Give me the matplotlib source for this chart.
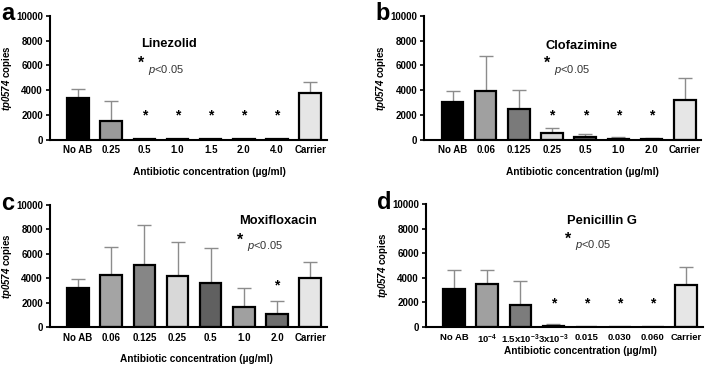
import matplotlib
matplotlib.use("Agg")
from matplotlib import pyplot as plt
import numpy as np

plt.rcParams['font.family'] = ['Liberation Sans', 'DejaVu Sans']
plt.rcParams['mathtext.fontset'] = 'custom'
plt.rcParams['mathtext.rm'] = 'Liberation Sans'
plt.rcParams['mathtext.it'] = 'Liberation Sans:italic'
plt.rcParams['mathtext.bf'] = 'Liberation Sans:bold'
plt.rcParams['mathtext.bfit'] = 'Liberation Sans:bold:italic'

# -- data
labels_a = ['No AB', '0.25', '0.5', '1.0', '1.5', '2.0', '4.0', 'Carrier']
mean_a = [3400, 1500, 80, 60, 100, 50, 50, 3750]
err_a = [700, 1600, 0, 0, 0, 0, 0, 950]
sig_a = [2, 3, 4, 5, 6]

labels_b = ['No AB', '0.06', '0.125', '0.25', '0.5', '1.0', '2.0', 'Carrier']
mean_b = [3050, 3950, 2500, 550, 250, 100, 50, 3200]
err_b = [900, 2850, 1500, 400, 250, 100, 60, 1750]
sig_b = [3, 4, 5, 6]

labels_c = ['No AB', '0.06', '0.125', '0.25', '0.5', '1.0', '2.0', 'Carrier']
mean_c = [3200, 4300, 5050, 4200, 3600, 1650, 1100, 4050]
err_c = [750, 2300, 3300, 2750, 2850, 1550, 1000, 1250]
sig_c = [6]

labels_d = ['No AB', r'10$^{\mathbf{-4}}$', r'1.5x10$^{\mathbf{-3}}$', r'3x10$^{\mathbf{-3}}$',
            '0.015', '0.030', '0.060', 'Carrier']
mean_d = [3100, 3500, 1800, 80, 40, 20, 30, 3400]
err_d = [1550, 1150, 1950, 170, 0, 0, 0, 1450]
sig_d = [3, 4, 5, 6]

fig = plt.figure(figsize=(7.12, 3.68), dpi=100)

# letter, title, labels, means, errors, starred bars, colours, axes rect,
# title pos, legend star pos, star height, xlabel x, xlabel pad, tick font
panels = [
    ('a', 'Linezolid', labels_a, mean_a, err_a, sig_a,
     ['#000000', '#9a9a9a', '#9a9a9a', '#9a9a9a', '#9a9a9a', '#9a9a9a', '#9a9a9a', '#e6e6e6'],
     [0.070, 0.620, 0.389, 0.337], (1.9, 7750), (1.9, 6150), 2000, 0.575, 8, 7),
    ('b', 'Clofazimine', labels_b, mean_b, err_b, sig_b,
     ['#000000', '#a0a0a0', '#7a7a7a', '#d8d8d8', '#5e5e5e', '#a0a0a0', '#8a8a8a', '#e6e6e6'],
     [0.596, 0.620, 0.389, 0.337], (2.8, 7550), (2.85, 6150), 1950, 0.57, 8, 7),
    ('c', 'Moxifloxacin', labels_c, mean_c, err_c, sig_c,
     ['#000000', '#a4a4a4', '#868686', '#d8d8d8', '#606060', '#a0a0a0', '#6e6e6e', '#e6e6e6'],
     [0.070, 0.111, 0.389, 0.332], (4.85, 8650), (4.9, 7150), 3450, 0.53, 8, 7),
    ('d', 'Penicillin G', labels_d, mean_d, err_d, sig_d,
     ['#000000', '#a0a0a0', '#7c7c7c', '#d0d0d0', '#606060', '#a0a0a0', '#8a8a8a', '#e6e6e6'],
     [0.598, 0.111, 0.389, 0.335], (3.4, 8650), (3.45, 7150), 1950, 0.56, 0, 6.8),
]

for (letter, name, labels, mean, err, sig, colors, pos, tpos, ppos, star_y,
     xl_x, xl_pad, tick_fs) in panels:
    ax = fig.add_axes(pos)
    x = np.arange(len(labels))
    ax.errorbar(x, mean, yerr=[np.zeros(len(err)), err], fmt='none',
                ecolor='#8c8c8c', elinewidth=1.0, capsize=5, capthick=1.0, zorder=1)
    ax.bar(x, mean, width=0.65, color=colors, edgecolor='black', linewidth=1.6, zorder=2)
    for i in sig:
        ax.text(i, star_y, '*', ha='center', va='center', fontsize=10, fontweight='bold')
    ax.set_xlim(-0.85, 7.5)
    ax.set_ylim(0, 10000)
    ax.set_yticks(range(0, 10001, 2000))
    ax.set_xticks(x)
    ax.set_xticklabels(labels, fontsize=tick_fs, fontweight='bold')
    for t in ax.get_yticklabels():
        t.set_fontsize(7)
        t.set_fontweight('bold')
    ax.spines['top'].set_visible(False)
    ax.spines['right'].set_visible(False)
    ax.spines['left'].set_linewidth(1.5)
    ax.spines['bottom'].set_linewidth(1.5)
    ax.tick_params(axis='both', width=1.2, length=3, pad=2)
    ax.tick_params(axis='x', length=0, pad=4)
    ax.set_xlabel('Antibiotic concentration (µg/ml)', fontsize=7.3, fontweight='bold',
                  labelpad=xl_pad)
    ax.xaxis.label.set_x(xl_x)
    ax.set_ylabel(r'$\mathbfit{tp0574}$ copies', fontsize=7, fontweight='bold', labelpad=1.5)
    ax.text(tpos[0], tpos[1], name, ha='left', va='center', fontsize=9.3, fontweight='bold')
    ax.text(ppos[0], ppos[1], '*', ha='center', va='center', fontsize=11.5, fontweight='bold')
    ax.text(ppos[0] + 0.2, ppos[1] - 500, r'$\mathit{p}$<0.05', ha='left', va='center',
            fontsize=8, color='#333333')
    fig.text(pos[0] - 0.068, pos[1] + pos[3] + 0.005, letter, ha='left', va='center',
             fontsize=17, fontweight='bold')

fig.savefig('out.png', dpi=100)
